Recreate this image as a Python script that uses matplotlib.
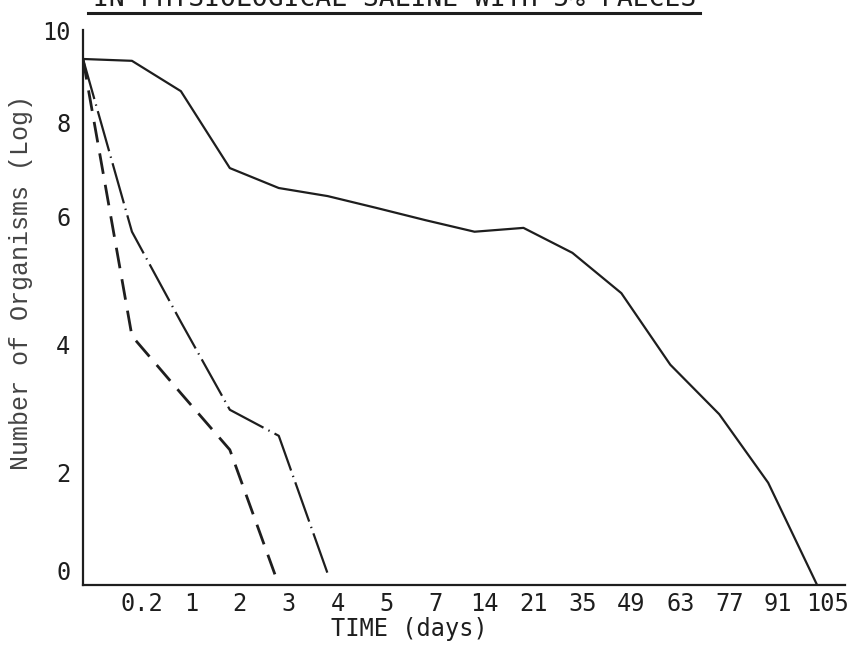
import numpy as np
import matplotlib.pyplot as plt
import matplotlib.transforms as mtransforms
from matplotlib.lines import Line2D

plt.rcParams['lines.scale_dashes'] = False

days = ["0", "0.2", "1", "2", "3", "4", "5", "7", "14", "21", "35", "49", "63", "77", "91", "105"]
solid_vals = [9.37, 9.33, 8.67, 7.03, 6.61, 6.44, 6.19, 5.95, 5.77, 5.83, 5.44, 4.81, 3.69, 2.91, 1.81, 0.0]
dashdot_vals = [9.37, 5.77, 4.36, 2.98, 2.57, 0.2]
dashed_vals = [9.37, 4.14, 3.24, 2.35, 0.0]

# the hand-typed y axis is not evenly spaced, so map it piecewise
y_ticks = [0, 2, 4, 6, 8, 10]
scale_v = [-2, 0, 2, 4, 6, 8, 10, 12]
scale_s = [-113, 0, 113, 240, 368, 463, 555, 647]


def fwd(v):
    return np.interp(v, scale_v, scale_s)


def inv(s):
    return np.interp(s, scale_s, scale_v)


fig = plt.figure(figsize=(8.63, 6.47), dpi=100)
ax = fig.add_axes([83 / 863, 62 / 647, 762 / 863, 555 / 647])
ax.set_yscale('function', functions=(fwd, inv))

x = np.arange(len(days))
ink = '#1e1e1e'
ax.plot(x, solid_vals, color=ink, lw=1.6, linestyle='-')
ax.plot(x[:len(dashdot_vals)], dashdot_vals, color=ink, lw=1.6, linestyle=(0, (30, 4, 1, 4)))
ax.plot(x[:len(dashed_vals)], dashed_vals, color=ink, lw=2.0, linestyle=(0, (15, 8)))

ax.set_xlim(0, 15.57)
ax.set_ylim(0, 10)

ax.set_xticks(x[1:])
ax.set_xticklabels(days[1:])
ax.set_yticks(y_ticks)
ax.set_yticklabels([str(t) for t in y_ticks])

mono = 'DejaVu Sans Mono'
ax.tick_params(length=0, labelsize=17, colors=ink)
ax.tick_params(axis='x', pad=5)
ax.tick_params(axis='y', pad=9)
for lab in ax.get_xticklabels() + ax.get_yticklabels():
    lab.set_family(mono)
shift = mtransforms.ScaledTranslation(10 / 100, 0, fig.dpi_scale_trans)
for lab in ax.get_xticklabels():
    lab.set_transform(lab.get_transform() + shift)
# the typed "0" sits a little above the axis line
lift = mtransforms.ScaledTranslation(0, 15 / 100, fig.dpi_scale_trans)
y0 = ax.get_yticklabels()[0]
y0.set_transform(y0.get_transform() + lift)

for side in ['top', 'right']:
    ax.spines[side].set_visible(False)
for side in ['left', 'bottom']:
    ax.spines[side].set_linewidth(1.6)
    ax.spines[side].set_color(ink)

ax.set_xlabel('TIME (days)', family=mono, fontsize=17, color=ink)
ax.set_ylabel('Number of Organisms (Log)', family='Liberation Mono', fontsize=18,
              color='#444444')
ax.xaxis.set_label_coords(0.428, -0.058)
ax.yaxis.set_label_coords(-0.066, 0.545)

fig.text(0.457, 1 - 6 / 647, 'IN PHYSIOLOGICAL SALINE WITH 5% FAECES', ha='center',
         va='baseline', family=mono, fontsize=19, color=ink)
fig.add_artist(Line2D([88 / 863, 700 / 863], [1 - 13 / 647, 1 - 13 / 647],
                      transform=fig.transFigure, color=ink, lw=2.2))

fig.savefig('out.png', dpi=100)
